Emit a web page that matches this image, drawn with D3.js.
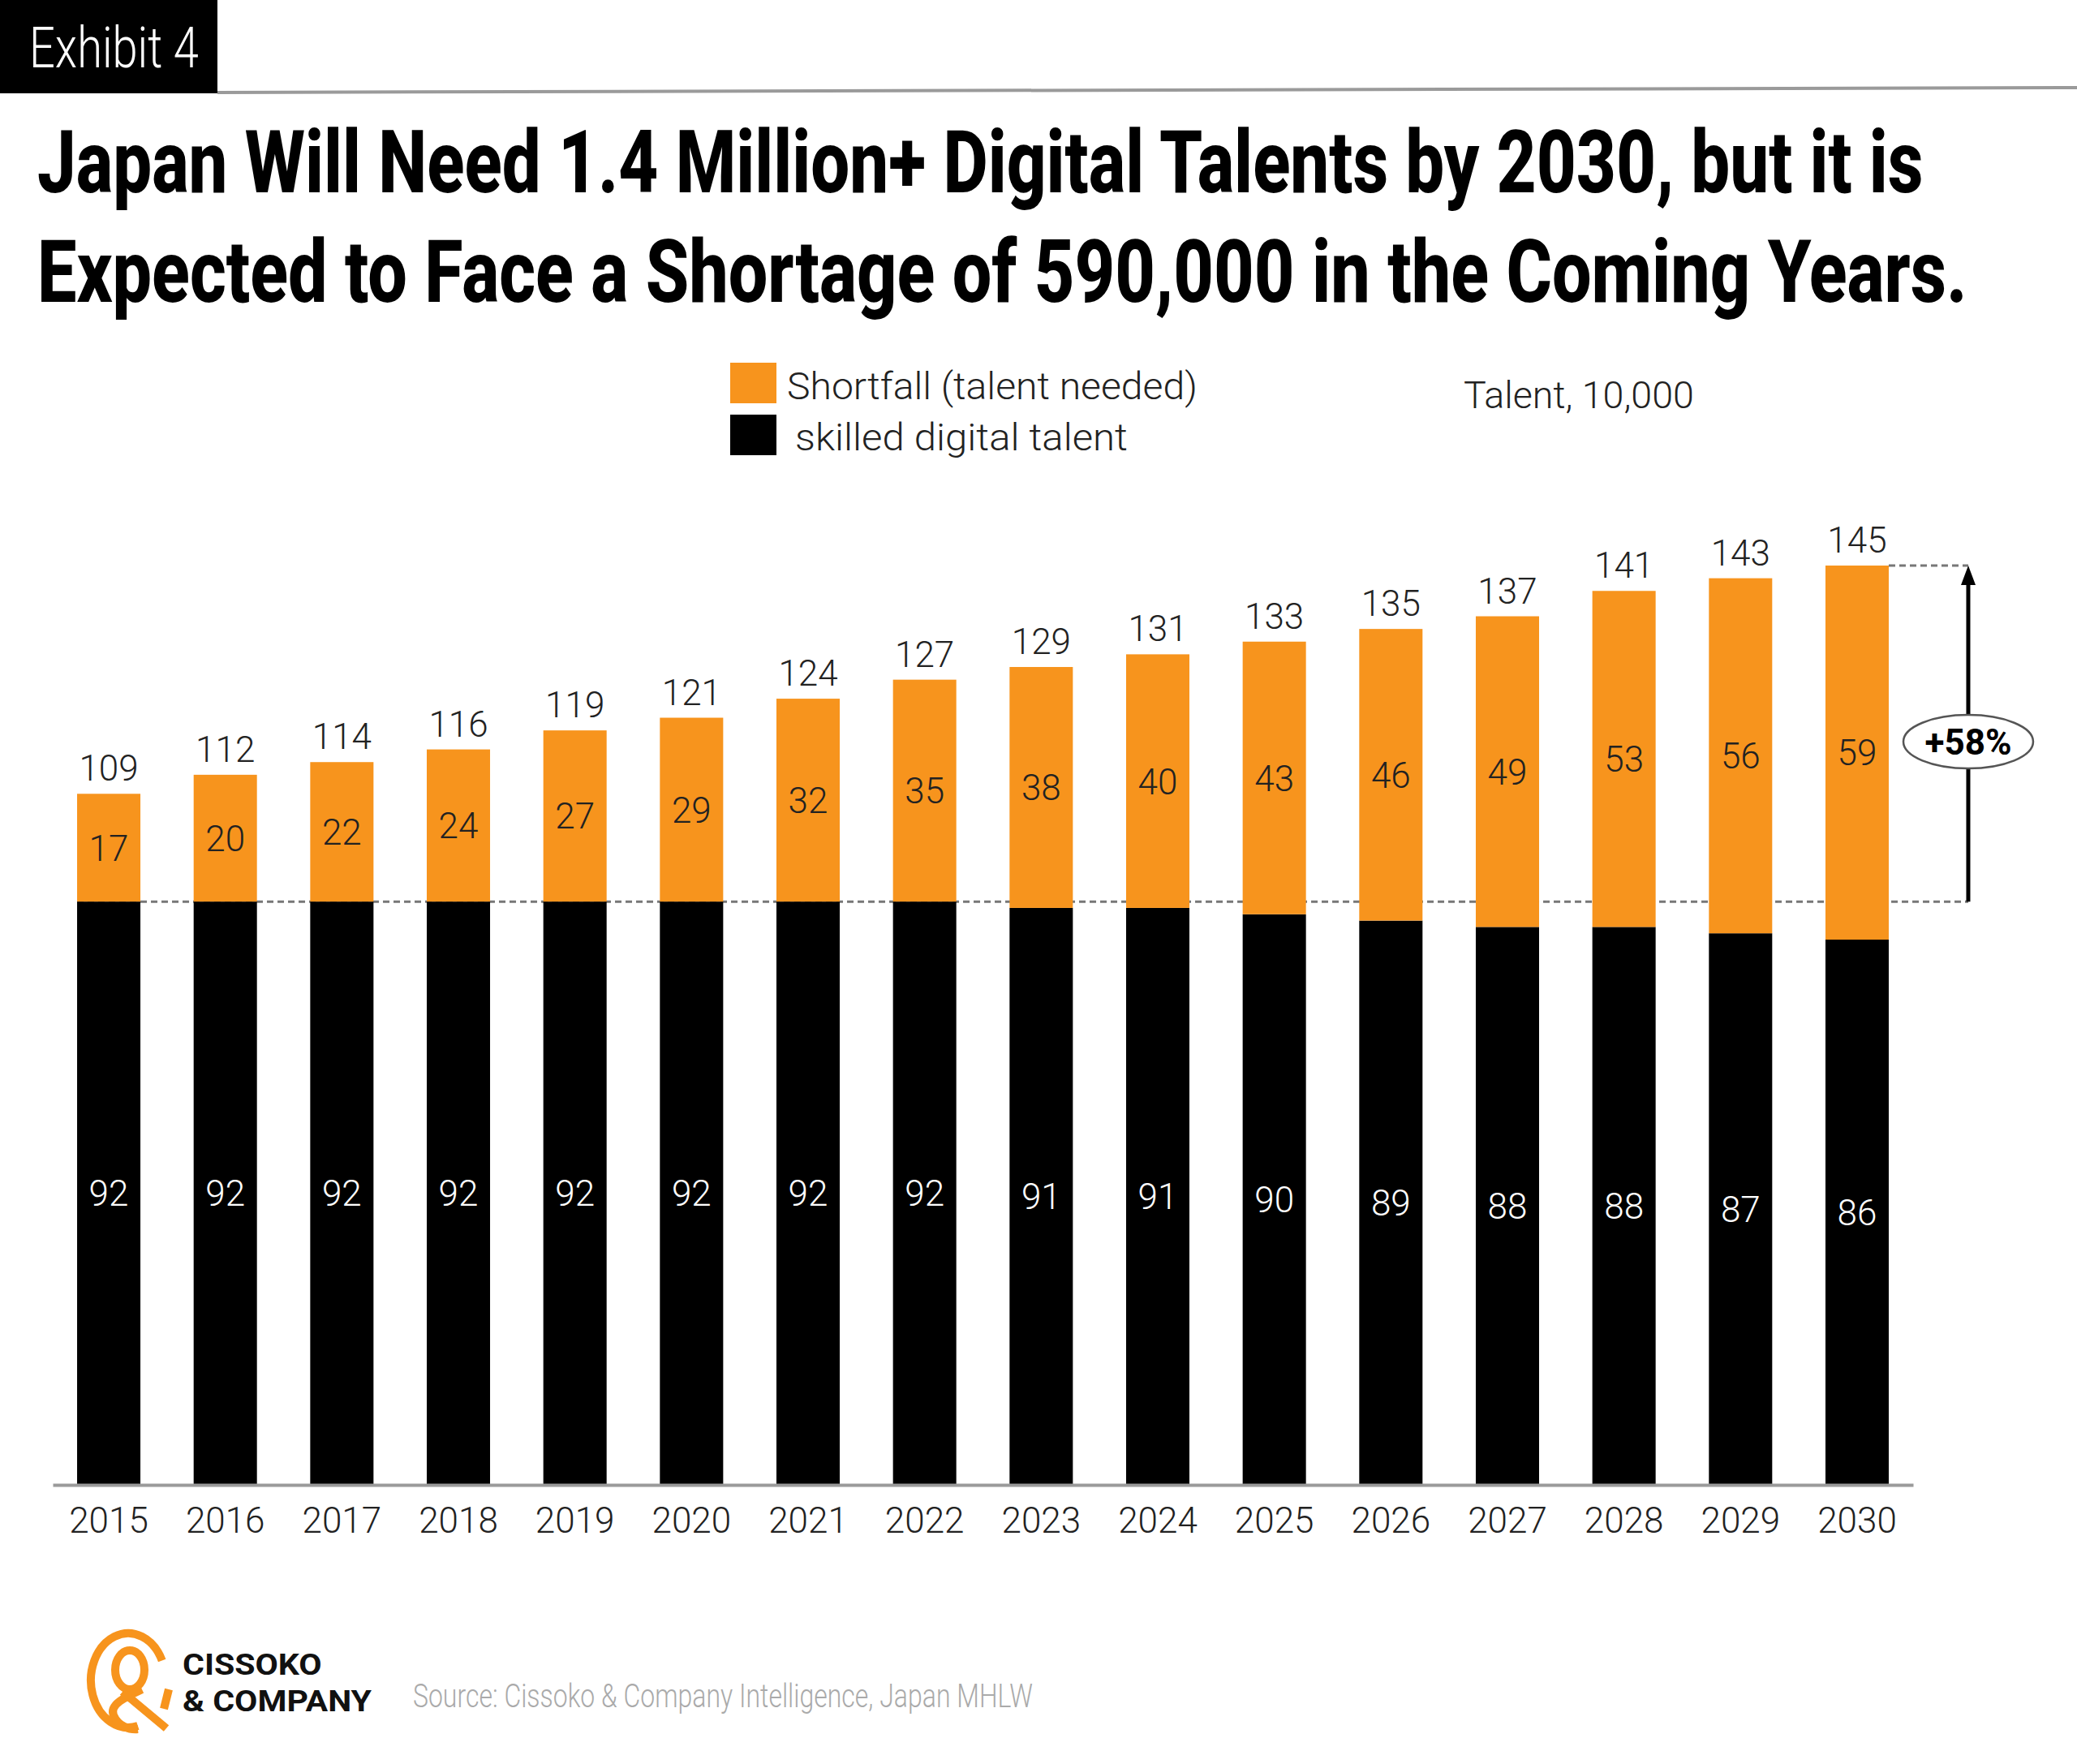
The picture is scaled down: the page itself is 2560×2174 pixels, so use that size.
<!DOCTYPE html>
<html>
<head>
<meta charset="utf-8">
<script src="https://cdn.jsdelivr.net/npm/d3@7"></script>
<style>
  html, body { margin: 0; padding: 0; background: #fff; }
  svg { display: block; font-family: Roboto, "Open Sans", sans-serif; }
</style>
</head>
<body>
<svg id="chart" width="2560" height="2174"></svg>
<script>
var years = ["2015", "2016", "2017", "2018", "2019", "2020", "2021", "2022",
             "2023", "2024", "2025", "2026", "2027", "2028", "2029", "2030"];
var skilled = [92, 92, 92, 92, 92, 92, 92, 92, 91, 91, 90, 89, 88, 88, 87, 86];
var shortfall = [17, 20, 22, 24, 27, 29, 32, 35, 38, 40, 43, 46, 49, 53, 56, 59];
var totals = [109, 112, 114, 116, 119, 121, 124, 127, 129, 131, 133, 135, 137, 141, 143, 145];
var legendLabels = ["Shortfall (talent needed)", "skilled digital talent"];
var colors = { skilled: "#000000", shortfall: "#F7941D" };

var svg = d3.select("#chart");
svg.append("rect").attr("width", 2560).attr("height", 2174).attr("fill", "#fff");

// squeeze a text horizontally to a given width (the original font is condensed)
function fit(sel, x, y, width) {
  var n = sel.node().getComputedTextLength();
  sel.attr("x", 0).attr("y", 0)
     .attr("transform", "translate(" + x + "," + y + ") scale(" + (width / n) + ",1)");
  return sel;
}

// header
svg.append("rect").attr("x", 0).attr("y", 0).attr("width", 268).attr("height", 115).attr("fill", "#000");
fit(svg.append("text").attr("fill", "#fff").attr("font-size", 70).attr("font-weight", 300)
    .text("Exhibit 4"), 36, 83, 209);
svg.append("line").attr("x1", 268).attr("y1", 114).attr("x2", 2560).attr("y2", 108)
    .attr("stroke", "#9a9a9a").attr("stroke-width", 4);

var title = svg.append("g").attr("font-size", 108).attr("font-weight", 800).attr("fill", "#000");
fit(title.append("text").text("Japan Will Need 1.4 Million+ Digital Talents by 2030, but it is"), 46, 237, 2325);
fit(title.append("text").text("Expected to Face a Shortage of 590,000 in the Coming Years."), 46, 372, 2379);

// legend
var legend = svg.append("g").attr("font-size", 46).attr("font-weight", 300).attr("fill", "#222");
legend.append("rect").attr("x", 900).attr("y", 447).attr("width", 57).attr("height", 50).attr("fill", colors.shortfall);
legend.append("rect").attr("x", 900).attr("y", 511).attr("width", 57).attr("height", 50).attr("fill", colors.skilled);
fit(legend.append("text").text(legendLabels[0]), 970, 492, 506);
fit(legend.append("text").text(legendLabels[1]), 980, 555, 410);
fit(legend.append("text").text("Talent, 10,000"), 1804, 503, 284);

// chart
var rows = years.map(function(d, i) {
  return { year: d, skilled: skilled[i], shortfall: shortfall[i], total: totals[i] };
});
var series = d3.stack().keys(["skilled", "shortfall"])(rows);

var x = d3.scaleBand().domain(years).range([65, 2358]).paddingInner(0.457).paddingOuter(0.209),
    y = d3.scaleLinear().domain([0, 145]).range([1830, 697]);

var g = svg.append("g");

var baseY = y(skilled[0]),
    topY = y(totals[totals.length - 1]),
    lastRight = x(years[years.length - 1]) + x.bandwidth(),
    arrowX = lastRight + 98;

// dashed reference lines
g.append("line")
    .attr("x1", x(years[0])).attr("x2", arrowX)
    .attr("y1", baseY).attr("y2", baseY)
    .attr("stroke", "#777").attr("stroke-width", 3).attr("stroke-dasharray", "8,5");
g.append("line")
    .attr("x1", lastRight).attr("x2", arrowX)
    .attr("y1", topY).attr("y2", topY)
    .attr("stroke", "#777").attr("stroke-width", 3).attr("stroke-dasharray", "8,5");

g.selectAll(".layer")
  .data(series)
  .enter().append("g")
    .attr("class", "layer")
    .attr("fill", function(d) { return colors[d.key]; })
  .selectAll("rect")
  .data(function(d) { return d; })
  .enter().append("rect")
    .attr("x", function(d) { return x(d.data.year); })
    .attr("y", function(d) { return y(d[1]); })
    .attr("width", x.bandwidth())
    .attr("height", function(d) { return y(d[0]) - y(d[1]); });

// segment labels
series.forEach(function(s) {
  g.selectAll(".lbl-" + s.key)
    .data(s)
    .enter().append("text")
      .attr("class", "lbl-" + s.key)
      .attr("x", function(d) { return x(d.data.year) + x.bandwidth() / 2; })
      .attr("y", function(d) { return (y(d[0]) + y(d[1])) / 2; })
      .attr("dy", "0.36em")
      .attr("text-anchor", "middle")
      .attr("font-size", 44)
      .attr("font-weight", 300)
      .attr("fill", s.key === "skilled" ? "#fff" : "#222")
      .text(function(d) { return d.data[s.key]; });
});

// totals
g.selectAll(".total")
  .data(rows)
  .enter().append("text")
    .attr("class", "total")
    .attr("x", function(d) { return x(d.year) + x.bandwidth() / 2; })
    .attr("y", function(d) { return y(d.total) - 16; })
    .attr("text-anchor", "middle")
    .attr("font-size", 44)
    .attr("font-weight", 300)
    .attr("fill", "#222")
    .text(function(d) { return d.total; });

// x axis
var axis = g.append("g")
    .attr("transform", "translate(0," + y(0) + ")")
    .call(d3.axisBottom(x).tickSize(0).tickSizeOuter(0).tickPadding(28));
axis.select(".domain").attr("stroke", "#9a9a9a").attr("stroke-width", 4);
axis.selectAll("text")
    .attr("font-size", 44)
    .attr("font-weight", 300)
    .attr("font-family", "Roboto, sans-serif")
    .attr("fill", "#222");

// growth arrow
g.append("line")
    .attr("x1", arrowX).attr("x2", arrowX)
    .attr("y1", baseY).attr("y2", topY + 20)
    .attr("stroke", "#000").attr("stroke-width", 5);
g.append("path")
    .attr("d", "M" + arrowX + "," + topY + "L" + (arrowX - 9) + "," + (topY + 24) + "L" + (arrowX + 9) + "," + (topY + 24) + "Z")
    .attr("fill", "#000");
var midY = (baseY + topY) / 2 + 10;
g.append("ellipse")
    .attr("cx", arrowX).attr("cy", midY).attr("rx", 80).attr("ry", 33)
    .attr("fill", "#fff").attr("stroke", "#555").attr("stroke-width", 2.5);
var growth = Math.round((totals[totals.length - 1] / skilled[0] - 1) * 100);
g.append("text")
    .attr("x", arrowX).attr("y", midY).attr("dy", "0.36em")
    .attr("text-anchor", "middle")
    .attr("font-size", 44).attr("font-weight", 700).attr("fill", "#000")
    .text("+" + growth + "%");

// footer logo
var logo = svg.append("g").attr("fill", "none").attr("stroke", colors.shortfall)
    .attr("stroke-width", 10).attr("stroke-linecap", "butt");
logo.append("path").attr("d", "M199.7,2046.5 A46,58 0 1 0 169.9,2127");
logo.append("ellipse").attr("cx", 160).attr("cy", 2058).attr("rx", 18).attr("ry", 24);
logo.append("path").attr("d", "M175,2082 C158,2090 134,2100 140,2114 C146,2128 160,2132 170,2131");
logo.append("line").attr("x1", 151).attr("y1", 2085).attr("x2", 205).attr("y2", 2130);
logo.append("line").attr("x1", 208).attr("y1", 2082).attr("x2", 202).attr("y2", 2106);

var brand = svg.append("text").attr("font-size", 37.5).attr("font-weight", 700).attr("fill", "#111");
brand.append("tspan").attr("x", 0).attr("dy", 0).text("CISSOKO");
brand.append("tspan").attr("x", 0).attr("dy", 45).text("& COMPANY");
var brandW = brand.node().getBBox().width;
brand.attr("transform", "translate(225,2064) scale(" + (234 / brandW) + ",1)");

fit(svg.append("text").attr("font-size", 40).attr("font-weight", 300).attr("fill", "#aaa")
    .text("Source: Cissoko & Company Intelligence, Japan MHLW"), 509, 2104, 764);
</script>
</body>
</html>
